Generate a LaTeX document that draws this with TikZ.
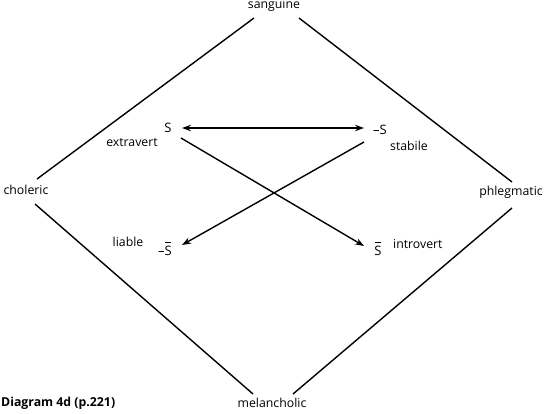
\documentclass[tikz,border=0pt]{standalone}
\usepackage{fontspec}
\setmainfont{Open Sans}
\usetikzlibrary{arrows.meta,calc}
\newcommand\barS{\leavevmode\rlap{\hspace{0.06em}\raisebox{0.95em}{\rule{0.42em}{0.7pt}}}S}
\begin{document}
\begin{tikzpicture}[x=1pt,y=-1pt,
  lbl/.style={inner sep=0pt,font=\fontsize{12.3}{14}\selectfont},
  sym/.style={inner sep=0pt,font=\fontsize{13}{15}\selectfont},
  edge/.style={line width=1.4pt},
  tip/.tip={Stealth[length=9pt,width=6.5pt]},
  arr/.style={line width=1.4pt,-tip}]
\useasboundingbox (0,0) rectangle (544,413);
\node[lbl] (san) at (274,5) {sanguine};
\node[lbl] (cho) at (26,190) {choleric};
\node[lbl] (phl) at (511,192) {phlegmatic};
\node[lbl] (mel) at (272,403) {melancholic};
\coordinate (t1) at (254,18);
\coordinate (t2) at (299,18);
\coordinate (l1) at (37,179);
\coordinate (l2) at (35,204);
\coordinate (r1) at (512,182);
\coordinate (r2) at (512,208);
\coordinate (b1) at (253,394);
\coordinate (b2) at (293,394);
\draw[edge] (t1) -- (l1);
\draw[edge] (l2) -- (b1);
\draw[edge] (b2) -- (r2);
\draw[edge] (r1) -- (t2);
\node[sym] (S) at (168,128) {S};
\node[sym] (nS) at (380,130) {--S};
\node[sym] (Sb) at (378,249) {\barS};
\node[sym] (nSb) at (165,249) {--\barS};
\node[lbl] (ext) at (132,143) {extravert};
\node[lbl] (sta) at (409,146) {stabile};
\node[lbl] (lia) at (128,242) {liable};
\node[lbl,anchor=west] (int) at (393,244) {introvert};
\node[lbl,anchor=west] (cap) at (1,403) {\bfseries Diagram 4d (p.221)};
\coordinate (h1) at (182,128);
\coordinate (h2) at (364,128);
\draw[edge,tip-tip] (h1) -- (h2);
\coordinate (a1) at (181,138);
\coordinate (a2) at (364,246);
\coordinate (c1) at (364,142);
\coordinate (c2) at (182,245);
\draw[arr] (a1) -- (a2);
\draw[arr] (c1) -- (c2);
\end{tikzpicture}
\end{document}
